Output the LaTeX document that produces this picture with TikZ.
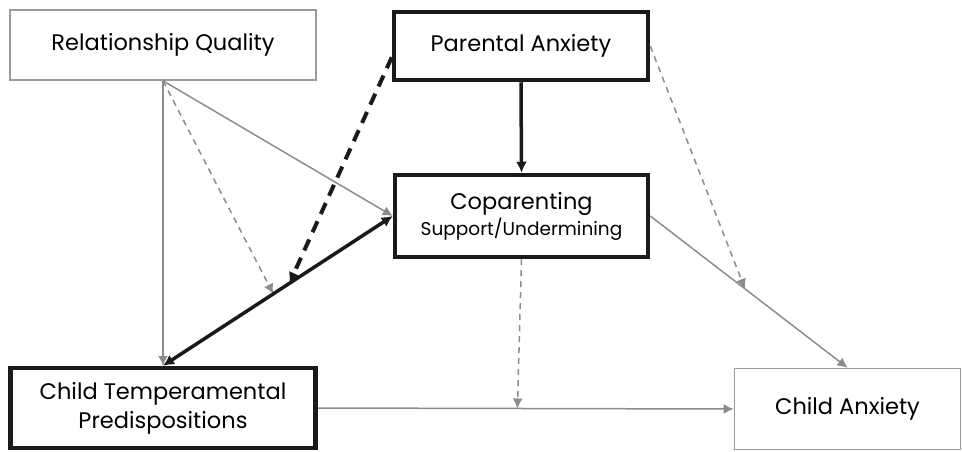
\documentclass[tikz,border=0pt]{standalone}
\usepackage{fontspec}
\setmainfont{Poppins}
\usetikzlibrary{arrows.meta,calc}
\definecolor{linegray}{HTML}{8C8C8C}
\definecolor{boxgray}{HTML}{9A9A9A}
\definecolor{darkline}{HTML}{1A1A1A}

\begin{document}
\begin{tikzpicture}[x=1pt,y=-1pt,
	lightbox/.style={draw=boxgray,line width=1.6pt,inner sep=0pt,align=center,font=\fontsize{22.5}{29}\selectfont},
	heavybox/.style={draw=darkline,line width=4.5pt,inner sep=0pt,align=center,font=\fontsize{22.5}{29}\selectfont},
	grayarrow/.style={draw=linegray,line width=1.5pt,-{Latex[length=10pt,width=10pt]}},
	graydash/.style={grayarrow,dash pattern=on 6pt off 5pt},
	blackarrow/.style={draw=darkline,line width=3.5pt,-{Latex[length=11pt,width=11pt]}},
	blackdash/.style={blackarrow,line width=4pt,dash pattern=on 12pt off 8pt}]
	\useasboundingbox (0,0) rectangle (962,451);
	\node[lightbox,minimum width=306pt,minimum height=70pt] (rq) at (163,45) {Relationship Quality};
	\node[heavybox,minimum width=254pt,minimum height=68pt] (pa) at (521,46) {Parental Anxiety};
	\node[heavybox,minimum width=253pt,minimum height=82pt] (cop) at (521.5,216) {Coparenting\\[-3pt]{\fontsize{18.5}{22}\selectfont Support/Undermining}};
	\node[heavybox,minimum width=305pt,minimum height=80pt] (ct) at (163,408) {Child Temperamental\\Predispositions};
	\node[lightbox,minimum width=226pt,minimum height=81pt] (ca) at (847.5,409) {Child Anxiety};
	\coordinate (m1) at ($(cop.west)!0.52!(ct.north)$);
	\coordinate (m2) at ($(cop.west)!0.45!(ct.north)$);
	\coordinate (m3) at ($(cop.east)!0.48!(ca.north)$);
	\coordinate (m4) at ($(ct.east)!0.48!(ca.west)$);
	\draw[grayarrow] (rq.south) -- (ct.north);
	\draw[grayarrow] (rq.south) -- (cop.west);
	\draw[graydash] (rq.south) -- (m1);
	\draw[blackdash] (pa.185) -- (m2);
	\draw[blackarrow] (pa.south) -- (cop.north);
	\draw[blackarrow,{Latex[length=11pt,width=11pt]}-{Latex[length=11pt,width=11pt]}] (cop.west) -- (ct.north);
	\draw[graydash] (pa.east) -- (m3);
	\draw[grayarrow] (cop.east) -- (ca.north);
	\draw[graydash] (cop.south) -- (m4);
	\draw[grayarrow] (ct.east) -- (ca.west);
\end{tikzpicture}
\end{document}
